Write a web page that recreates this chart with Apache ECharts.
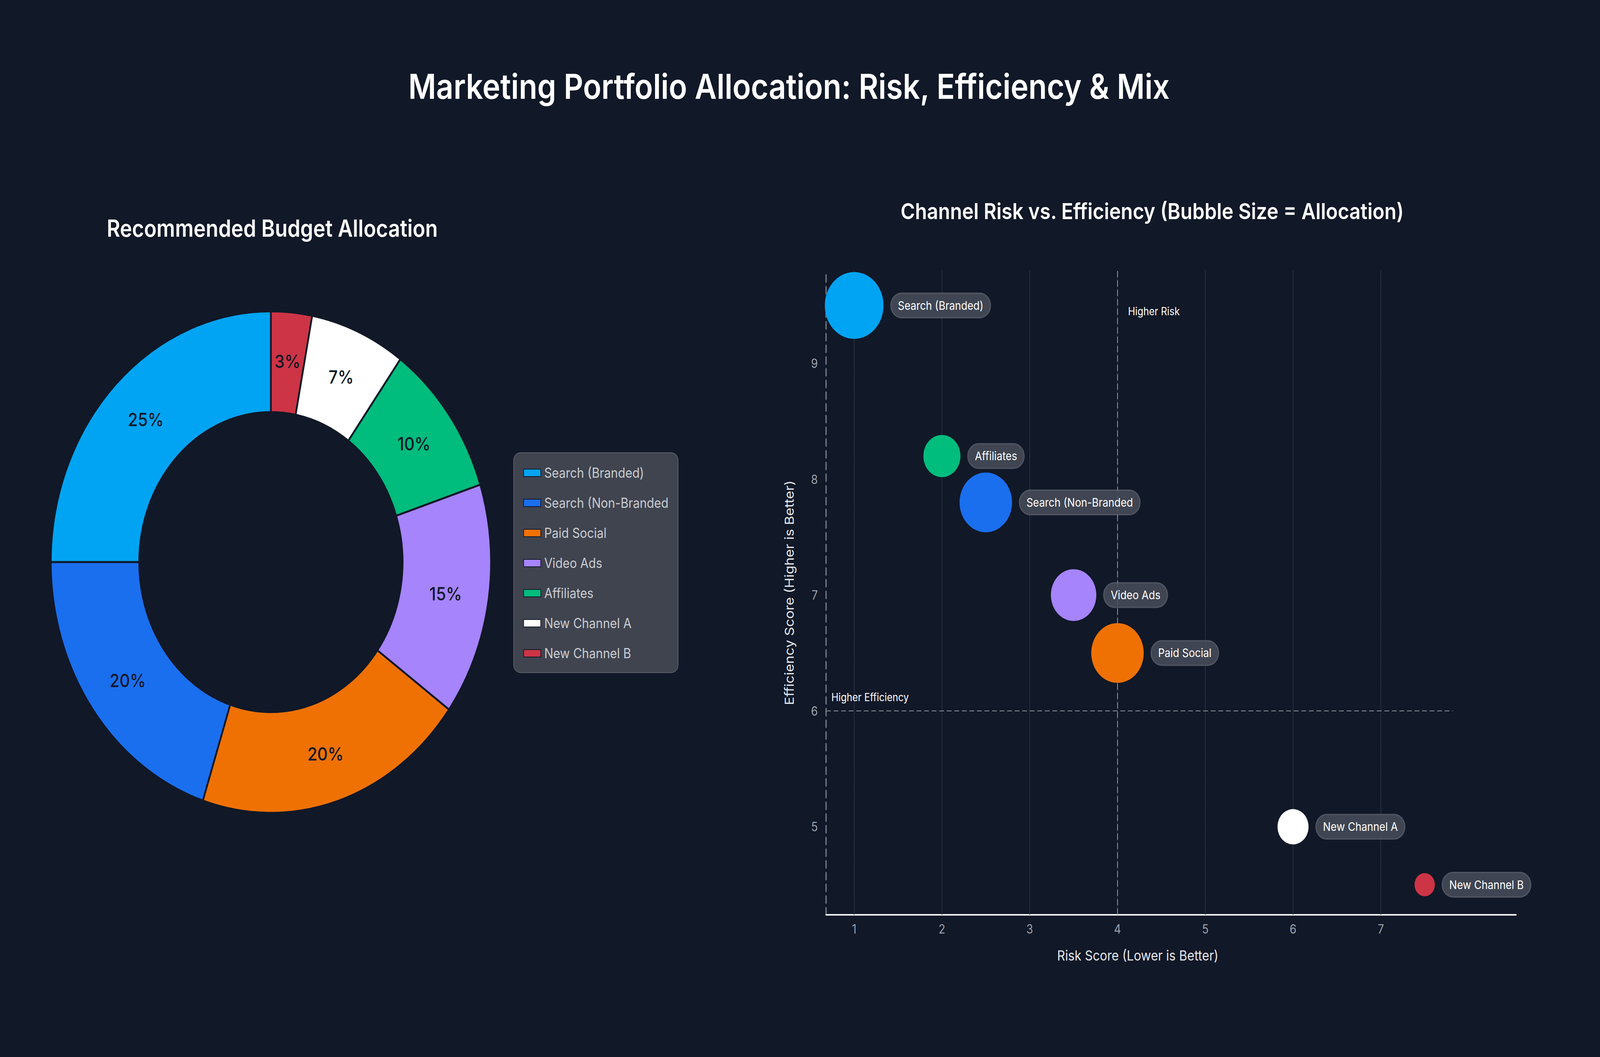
<!DOCTYPE html>
<html>
<head>
<meta charset="utf-8">
<title>Marketing Portfolio Allocation</title>
<script src="https://cdn.jsdelivr.net/npm/echarts@6/dist/echarts.min.js"></script>
<style>
  html, body { margin: 0; padding: 0; background: #111827; overflow: hidden; }
  #main { width: 4666px; height: 2706px; transform-origin: 0 0; }
</style>
</head>
<body>
<div id="main"></div>
<script>
  // channel data
  var channels = ['Search (Branded)', 'Search (Non-Branded', 'Paid Social', 'Video Ads', 'Affiliates', 'New Channel A', 'New Channel B'];
  var allocation = [25, 20, 20, 15, 10, 7, 3];
  var riskScore = [1, 2.5, 4, 3.5, 2, 6, 7.5];
  var efficiencyScore = [9.5, 7.8, 6.5, 7, 8.2, 5, 4.5];
  var palette = ['#01a4f3', '#1a6fef', '#ef7104', '#a684fc', '#00bc7d', '#ffffff', '#cd3446'];

  // axis ticks
  var xTicks = [1, 2, 3, 4, 5, 6, 7];
  var yTicks = [5, 6, 7, 8, 9];

  var FONT = 'Inter';
  var BG = '#111827';

  // the layout is drawn on a 4666 x 2706 canvas, stretched to whatever the window is
  var box = document.getElementById('main');
  var W = window.innerWidth || 4666;
  var H = window.innerHeight || 2706;
  box.style.transform = 'scale(' + (W / 4666) + ',' + (H / 2706) + ')';

  var pieData = [];
  var bubbleData = [];
  for (var i = 0; i < channels.length; i++) {
    pieData.push({ name: channels[i], value: allocation[i], itemStyle: { color: palette[i] } });
    bubbleData.push({ name: channels[i], value: [riskScore[i], efficiencyScore[i], allocation[i]], itemStyle: { color: palette[i], opacity: 1 } });
  }

  // vertical grid lines at the tick values + the two quadrant lines
  var guideLines = [];
  for (var k = 0; k < xTicks.length; k++) {
    guideLines.push({ xAxis: xTicks[k], lineStyle: { color: '#434b5a', width: 2, type: 'dotted' } });
  }
  guideLines.push({ xAxis: 4, lineStyle: { color: '#a1a6b0', width: 2, type: [16, 8] } });
  guideLines.push([
    { coord: [0.68, 6], lineStyle: { color: '#8d929c', width: 2, type: [14, 8] } },
    { coord: [7.82, 6] }
  ]);

  var chart = echarts.init(box, null, { renderer: 'svg', width: 4666, height: 2706 });

  var option = {
    backgroundColor: BG,
    animation: false,
    textStyle: { fontFamily: FONT },
    title: [
      {
        text: 'Marketing Portfolio Allocation: Risk, Efficiency & Mix',
        left: 2296, top: 172, textAlign: 'center',
        textStyle: { color: '#ffffff', fontSize: 88, fontWeight: 600, fontFamily: FONT }
      },
      {
        text: 'Recommended Budget Allocation',
        left: 789, top: 549, textAlign: 'center',
        textStyle: { color: '#ffffff', fontSize: 60, fontWeight: 600, fontFamily: FONT }
      },
      {
        text: 'Channel Risk vs. Efficiency (Bubble Size = Allocation)',
        left: 3355, top: 507, textAlign: 'center',
        textStyle: { color: '#ffffff', fontSize: 57, fontWeight: 600, fontFamily: FONT }
      }
    ],
    legend: {
      data: channels,
      orient: 'vertical',
      left: 1498, top: 1159,
      icon: 'rect',
      itemWidth: 50, itemHeight: 19, itemGap: 42,
      padding: [34, 28, 32, 28],
      backgroundColor: '#40444f',
      borderColor: '#5b606b', borderWidth: 2, borderRadius: 20,
      textStyle: { color: '#c9ccd2', fontSize: 35, fontFamily: FONT, padding: [0, 0, 0, 5] }
    },
    grid: { left: 2409, right: 245, top: 693, bottom: 364, containLabel: false },
    xAxis: {
      type: 'value',
      min: 0.68, max: 8.54, splitNumber: 8,
      name: 'Risk Score (Lower is Better)',
      nameLocation: 'middle', nameGap: 86,
      nameTextStyle: { color: '#e5e7eb', fontSize: 36, fontFamily: FONT, padding: [0, 194, 0, 0] },
      axisLine: { show: true, lineStyle: { color: '#f3f4f6', width: 4 } },
      axisTick: { show: false },
      splitLine: { show: false },
      axisLabel: {
        color: '#9ca3af', fontSize: 32, margin: 20, fontFamily: FONT,
        formatter: function (v) { return xTicks.indexOf(v) >= 0 ? String(v) : ''; }
      }
    },
    yAxis: {
      type: 'value',
      min: 4.24, max: 9.8, splitNumber: 5,
      name: 'Efficiency Score (Higher is Better)',
      nameLocation: 'middle', nameGap: 90,
      nameTextStyle: { color: '#e5e7eb', fontSize: 36, fontFamily: FONT },
      axisLine: { show: true, lineStyle: { color: '#6b7280', width: 4, type: [18, 12] } },
      axisTick: { show: false },
      splitLine: { show: false },
      axisLabel: {
        color: '#9ca3af', fontSize: 32, margin: 24, fontFamily: FONT,
        formatter: function (v) { return yTicks.indexOf(v) >= 0 ? String(v) : ''; }
      }
    },
    series: [
      {
        name: 'Allocation',
        type: 'pie',
        center: [790, 1439],
        radius: [384, 642],
        startAngle: 90,
        clockwise: false,
        avoidLabelOverlap: false,
        itemStyle: { borderColor: BG, borderWidth: 5 },
        label: {
          show: true, position: 'inside',
          formatter: '{c}%',
          color: '#111827', fontSize: 47, fontWeight: 500, fontFamily: FONT
        },
        labelLine: { show: false },
        emphasis: { disabled: true },
        data: pieData
      },
      {
        // grid and reference lines, kept under the bubbles
        name: 'guides',
        type: 'scatter',
        data: [],
        z: 1,
        silent: true,
        markLine: {
          z: 1,
          silent: true,
          symbol: ['none', 'none'],
          label: { show: false },
          data: guideLines
        },
        markPoint: {
          z: 1,
          silent: true,
          symbol: 'circle', symbolSize: 0,
          label: { show: true, color: '#ffffff', fontSize: 28, fontFamily: FONT, position: 'right', distance: 0 },
          data: [
            { coord: [4.12, 9.45], label: { formatter: 'Higher Risk' } },
            { coord: [0.74, 6.12], label: { formatter: 'Higher Efficiency' } }
          ]
        }
      },
      {
        name: 'Channels',
        type: 'scatter',
        z: 3,
        data: bubbleData,
        symbolSize: function (val) { return Math.sqrt(val[2]) * 34.2; },
        itemStyle: { opacity: 1 },
        label: {
          show: true,
          position: 'right',
          distance: 22,
          formatter: '{b}',
          color: '#ffffff',
          fontSize: 30,
          lineHeight: 34,
          fontFamily: FONT,
          backgroundColor: 'rgba(72, 77, 90, 0.85)',
          borderColor: 'rgba(125, 130, 140, 0.6)',
          borderWidth: 2,
          borderRadius: 32,
          padding: [14, 20]
        },
        emphasis: { disabled: true }
      }
    ]
  };

  chart.setOption(option);
</script>
</body>
</html>
